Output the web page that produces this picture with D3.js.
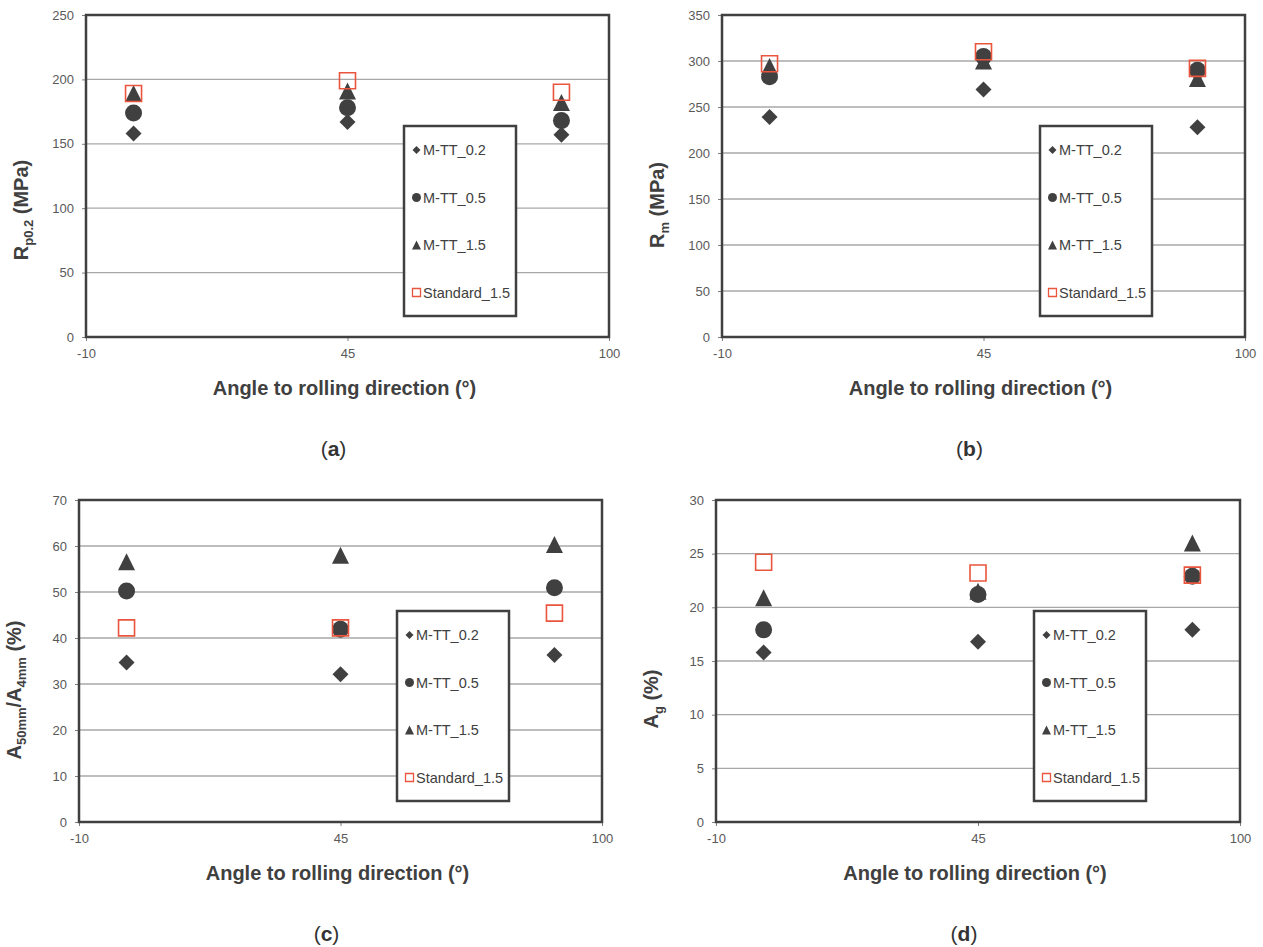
<!DOCTYPE html>
<html>
<head>
<meta charset="utf-8">
<script src="https://cdn.jsdelivr.net/npm/d3@7"></script>
<style>
  body { margin: 0; background: #fff; }
  svg { display: block; font-family: "Liberation Sans", Arial, sans-serif; }
</style>
</head>
<body>
<svg id="chart" width="1263" height="947"></svg>
<script>
// values
const angles = [0, 45, 90];
const seriesNames = ["M-TT_0.2", "M-TT_0.5", "M-TT_1.5", "Standard_1.5"];
const xTicks = [-10, 45, 100];

// (a) Rp0.2 (MPa)
const rp_mtt02 = [158, 167, 157];
const rp_mtt05 = [174, 178, 168];
const rp_mtt15 = [189, 191, 182];
const rp_std15 = [189, 199, 190];
const rp_ticks = [0, 50, 100, 150, 200, 250];

// (b) Rm (MPa)
const rm_mtt02 = [239, 269, 228];
const rm_mtt05 = [283, 305, 290];
const rm_mtt15 = [294, 300, 281];
const rm_std15 = [297, 310, 292];
const rm_ticks = [0, 50, 100, 150, 200, 250, 300, 350];

// (c) A50mm/A4mm (%)
const a50_mtt02 = [34.7, 32.1, 36.3];
const a50_mtt05 = [50.2, 41.9, 50.9];
const a50_mtt15 = [56.6, 58.0, 60.3];
const a50_std15 = [42.2, 42.2, 45.4];
const a50_ticks = [0, 10, 20, 30, 40, 50, 60, 70];

// (d) Ag (%)
const ag_mtt02 = [15.8, 16.8, 17.9];
const ag_mtt05 = [17.9, 21.2, 22.9];
const ag_mtt15 = [20.9, 21.5, 26.0];
const ag_std15 = [24.2, 23.2, 23.0];
const ag_ticks = [0, 5, 10, 15, 20, 25, 30];

const dark = "#404040";
const red = "#e9553d";
const svg = d3.select("#chart");

// excel-like marker shapes, size = width^2
const symDiamond = { draw(ctx, size) { const r = Math.sqrt(size) / 2;
  ctx.moveTo(0, -r); ctx.lineTo(r, 0); ctx.lineTo(0, r); ctx.lineTo(-r, 0); ctx.closePath(); } };
const symCircle = { draw(ctx, size) { const r = Math.sqrt(size) / 2;
  ctx.moveTo(r, 0); ctx.arc(0, 0, r, 0, 2 * Math.PI); } };
const symTriangle = { draw(ctx, size) { const w = Math.sqrt(size);
  ctx.moveTo(0, -w / 2); ctx.lineTo(w / 2, w / 2); ctx.lineTo(-w / 2, w / 2); ctx.closePath(); } };
const symSquare = { draw(ctx, size) { const w = Math.sqrt(size);
  ctx.rect(-w / 2, -w / 2, w, w); } };

const markerStyles = [
  { type: symDiamond, size: 16, lsize: 8, fill: dark, stroke: "none" },
  { type: symCircle, size: 17, lsize: 9, fill: dark, stroke: "none" },
  { type: symTriangle, size: 17, lsize: 9, fill: dark, stroke: "none" },
  { type: symSquare, size: 16, lsize: 8, fill: "none", stroke: red }
];

const panels = [
  { id: "a", left: 86, right: 609, top: 15, bottom: 337, ticks: rp_ticks,
    series: [rp_mtt02, rp_mtt05, rp_mtt15, rp_std15],
    ylabel: [["R", 0], ["p0.2", 1], [" (MPa)", 0]], ylabelY: 210 },
  { id: "b", left: 722, right: 1245, top: 15, bottom: 337, ticks: rm_ticks,
    series: [rm_mtt02, rm_mtt05, rm_mtt15, rm_std15],
    ylabel: [["R", 0], ["m", 1], [" (MPa)", 0]], ylabelY: 205 },
  { id: "c", left: 79, right: 602, top: 500, bottom: 822, ticks: a50_ticks,
    series: [a50_mtt02, a50_mtt05, a50_mtt15, a50_std15],
    ylabel: [["A", 0], ["50mm", 1], ["/A", 0], ["4mm", 1], [" (%)", 0]], ylabelY: 690 },
  { id: "d", left: 716, right: 1240, top: 500, bottom: 822, ticks: ag_ticks,
    series: [ag_mtt02, ag_mtt05, ag_mtt15, ag_std15],
    ylabel: [["A", 0], ["g", 1], [" (%)", 0]], ylabelY: 699 }
];

panels.forEach(drawPanel);

function drawPanel(p) {
  const g = svg.append("g");
  const x = d3.scaleLinear().domain([-10, 100]).range([p.left, p.right]);
  const y = d3.scaleLinear().domain([0, d3.max(p.ticks)]).range([p.bottom, p.top]);

  // gridlines
  g.selectAll(".grid")
    .data(p.ticks.slice(1, -1))
    .join("line")
    .attr("x1", p.left).attr("x2", p.right)
    .attr("y1", d => y(d)).attr("y2", d => y(d))
    .attr("stroke", "#a8a8a8").attr("stroke-width", 1.3);

  // axes (plain hyphen for negatives, like the original)
  const yAxis = g.append("g")
    .attr("transform", `translate(${p.left},0)`)
    .call(d3.axisLeft(y).tickValues(p.ticks).tickSize(4).tickPadding(8).tickFormat(d => String(d)));
  const xAxis = g.append("g")
    .attr("transform", `translate(0,${p.bottom})`)
    .call(d3.axisBottom(x).tickValues(xTicks).tickSize(4).tickPadding(8).tickFormat(d => String(d)));
  [yAxis, xAxis].forEach(ax => {
    ax.select(".domain").remove();
    ax.selectAll(".tick line").attr("stroke", "#7f7f7f");
    ax.selectAll(".tick text")
      .attr("fill", "#595959")
      .style("font-size", "13px")
      .style("font-family", '"Liberation Sans", Arial, sans-serif');
  });

  // plot frame
  g.append("rect")
    .attr("x", p.left).attr("y", p.top)
    .attr("width", p.right - p.left).attr("height", p.bottom - p.top)
    .attr("fill", "none").attr("stroke", dark).attr("stroke-width", 2.5);

  // markers
  p.series.forEach((vals, si) => {
    const st = markerStyles[si];
    const sym = d3.symbol().type(st.type).size(st.size * st.size);
    g.selectAll(".s" + si)
      .data(vals.map((v, i) => ({ a: angles[i], v: v })))
      .join("path")
      .attr("d", sym)
      .attr("transform", d => `translate(${x(d.a)},${y(d.v)})`)
      .attr("fill", st.fill)
      .attr("stroke", st.stroke)
      .attr("stroke-width", 1.6);
  });

  // legend
  const lx = p.left + 318, ly = p.top + 111;
  const leg = g.append("g").attr("transform", `translate(${lx},${ly})`);
  leg.append("rect")
    .attr("width", 112).attr("height", 190)
    .attr("fill", "#fff").attr("stroke", dark).attr("stroke-width", 2.5);
  seriesNames.forEach((name, si) => {
    const st = markerStyles[si];
    const yy = 24 + si * 47.5;
    leg.append("path")
      .attr("d", d3.symbol().type(st.type).size(st.lsize * st.lsize))
      .attr("transform", `translate(12.5,${yy})`)
      .attr("fill", st.fill).attr("stroke", st.stroke).attr("stroke-width", 1.3);
    leg.append("text")
      .attr("x", 19).attr("y", yy)
      .attr("dy", "0.36em")
      .attr("fill", dark)
      .style("font-size", "14.5px")
      .text(name);
  });

  // x title
  const cx = (p.left + p.right) / 2;
  g.append("text")
    .attr("x", cx - 3).attr("y", p.bottom + 58)
    .attr("text-anchor", "middle")
    .attr("fill", dark)
    .style("font-size", "20px").style("font-weight", "bold")
    .text("Angle to rolling direction (°)");

  // y title with subscripts
  const yl = g.append("text")
    .attr("transform", `translate(${p.left - 58},${p.ylabelY}) rotate(-90)`)
    .attr("text-anchor", "middle")
    .attr("fill", dark)
    .style("font-size", "20px").style("font-weight", "bold");
  let prevSub = 0;
  p.ylabel.forEach(([t, sub]) => {
    const ts = yl.append("tspan").text(t);
    if (sub) ts.style("font-size", "13px");
    if (sub !== prevSub) ts.attr("dy", sub ? 5 : -5);
    prevSub = sub;
  });

  // panel tag
  const tag = g.append("text")
    .attr("x", cx - 14).attr("y", p.bottom + 119)
    .attr("text-anchor", "middle")
    .attr("fill", "#333")
    .style("font-size", "21px");
  tag.append("tspan").text("(");
  tag.append("tspan").style("font-weight", "bold").text(p.id);
  tag.append("tspan").text(")");
}
</script>
</body>
</html>
